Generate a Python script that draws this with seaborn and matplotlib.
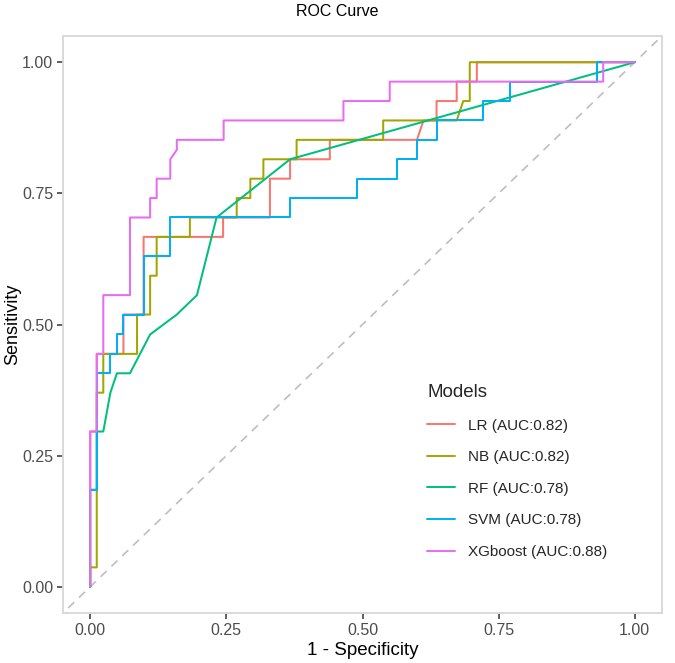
import matplotlib
matplotlib.use("Agg")
import matplotlib.pyplot as plt
import seaborn as sns
import pandas as pd

# ---- data ----
models = ["LR (AUC:0.82)", "NB (AUC:0.82)", "RF (AUC:0.78)", "SVM (AUC:0.78)", "XGboost (AUC:0.88)"]
colors = ["#F8766D", "#A3A500", "#00BF7D", "#00B0F6", "#E76BF3"]

lr_fpr = [0, 0, 0.012, 0.012, 0.061, 0.061, 0.098, 0.098, 0.244, 0.244, 0.330, 0.330, 0.367, 0.367,
          0.440, 0.440, 0.600, 0.612, 0.636, 0.636, 0.673, 0.673, 0.710, 0.710, 1.0]
lr_tpr = [0, 0.296, 0.296, 0.444, 0.444, 0.519, 0.519, 0.667, 0.667, 0.704, 0.704, 0.778, 0.778, 0.815,
          0.815, 0.852, 0.852, 0.889, 0.889, 0.926, 0.926, 0.963, 0.963, 1.0, 1.0]

nb_fpr = [0, 0, 0.012, 0.012, 0.024, 0.024, 0.086, 0.086, 0.110, 0.110, 0.122, 0.122, 0.183, 0.183,
          0.269, 0.269, 0.294, 0.294, 0.318, 0.318, 0.379, 0.379, 0.538, 0.538, 0.673, 0.685, 0.697,
          0.697, 1.0]
nb_tpr = [0, 0.037, 0.037, 0.370, 0.370, 0.444, 0.444, 0.519, 0.519, 0.593, 0.593, 0.667, 0.667, 0.704,
          0.704, 0.741, 0.741, 0.778, 0.778, 0.815, 0.815, 0.852, 0.852, 0.889, 0.889, 0.926, 0.926,
          1.0, 1.0]

rf_fpr = [0, 0, 0.012, 0.012, 0.024, 0.037, 0.049, 0.073, 0.110, 0.159, 0.196, 0.232, 0.367, 1.0]
rf_tpr = [0, 0.185, 0.185, 0.296, 0.296, 0.370, 0.407, 0.407, 0.481, 0.519, 0.556, 0.704, 0.815, 1.0]

svm_fpr = [0, 0, 0.012, 0.012, 0.037, 0.037, 0.049, 0.049, 0.061, 0.061, 0.098, 0.098, 0.147, 0.147,
           0.367, 0.367, 0.489, 0.489, 0.563, 0.563, 0.600, 0.600, 0.636, 0.636, 0.722, 0.722, 0.771,
           0.771, 0.930, 0.930, 1.0]
svm_tpr = [0, 0.185, 0.185, 0.407, 0.407, 0.444, 0.444, 0.481, 0.481, 0.519, 0.519, 0.630, 0.630, 0.704,
           0.704, 0.741, 0.741, 0.778, 0.778, 0.815, 0.815, 0.852, 0.852, 0.889, 0.889, 0.926, 0.926,
           0.963, 0.963, 1.0, 1.0]

xg_fpr = [0, 0, 0.012, 0.012, 0.024, 0.024, 0.073, 0.073, 0.110, 0.110, 0.122, 0.122, 0.147, 0.147,
          0.159, 0.159, 0.245, 0.245, 0.465, 0.465, 0.550, 0.550, 0.942, 0.942, 1.0]
xg_tpr = [0, 0.296, 0.296, 0.444, 0.444, 0.556, 0.556, 0.704, 0.704, 0.741, 0.741, 0.778, 0.778, 0.815,
          0.833, 0.852, 0.852, 0.889, 0.889, 0.926, 0.926, 0.963, 0.963, 1.0, 1.0]

x_ticks = [0.00, 0.25, 0.50, 0.75, 1.00]
tick_labels = ["0.00", "0.25", "0.50", "0.75", "1.00"]

# ---- build long table ----
series = [(lr_fpr, lr_tpr), (nb_fpr, nb_tpr), (rf_fpr, rf_tpr), (svm_fpr, svm_tpr), (xg_fpr, xg_tpr)]
rows = []
for name, (fx, ty) in zip(models, series):
    for i, (a, b) in enumerate(zip(fx, ty)):
        rows.append({"Model": name, "order": i, "fpr": a, "tpr": b})
df = pd.DataFrame(rows)

sns.set_style("white")
plt.rcParams["font.family"] = ["Liberation Sans", "DejaVu Sans"]

fig = plt.figure(figsize=(6.75, 6.63), dpi=100)
ax = fig.add_axes([63 / 675, 1 - 613 / 663, 599 / 675, 577 / 663])

# diagonal reference line
ax.plot([-0.1, 1.1], [-0.1, 1.1], ls=(0, (5, 4)), color="#BEBEBE", lw=1.2, zorder=1)

sns.lineplot(data=df, x="fpr", y="tpr", hue="Model", hue_order=models, palette=colors,
             units="Model", estimator=None, sort=False, lw=1.45, ax=ax, zorder=2)

ax.set_xlim(-0.05, 1.05)
ax.set_ylim(-0.05, 1.05)
ax.set_xticks(x_ticks)
ax.set_xticklabels(tick_labels)
ax.set_yticks(x_ticks)
ax.set_yticklabels(tick_labels)
ax.tick_params(axis="both", which="both", direction="out", length=4, width=1.1,
               color="#333333", labelsize=11.5, labelcolor="#4D4D4D", bottom=True, left=True, pad=3)
for s in ax.spines.values():
    s.set_color("#D9D9D9")
    s.set_linewidth(1.4)
ax.grid(False)

ax.set_xlabel("1 - Specificity", fontsize=13.5, color="black", labelpad=3)
ax.set_ylabel("Sensitivity", fontsize=13, color="black")
ax.yaxis.set_label_coords(-0.069, 0.5)
fig.text(0.5, 1 - 12 / 663, "ROC Curve", ha="center", va="center", fontsize=11.5, color="black")

leg = ax.legend(title="Models", loc="lower left", bbox_to_anchor=(0.585, 0.07), frameon=False,
                fontsize=11, title_fontsize=13.5, handlelength=1.85, handletextpad=0.85,
                labelspacing=1.15, alignment="left")
for line in leg.get_lines():
    line.set_linewidth(1.4)

fig.savefig("out.png", dpi=100)
